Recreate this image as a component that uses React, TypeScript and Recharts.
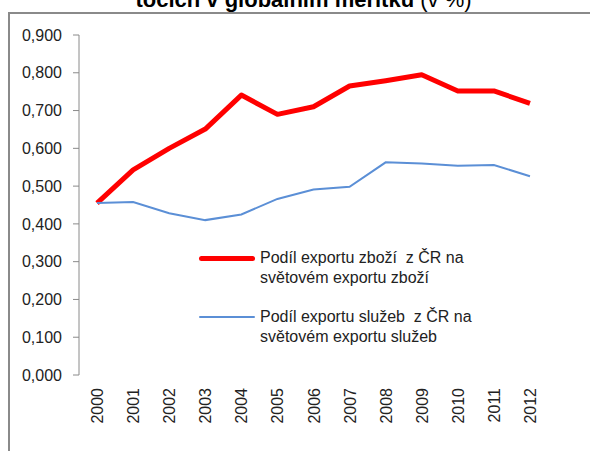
import React from 'react';
import { LineChart, Line, XAxis, YAxis } from 'recharts';

const years = ['2000', '2001', '2002', '2003', '2004', '2005', '2006', '2007', '2008', '2009', '2010', '2011', '2012'];
const goodsShare = [0.455, 0.543, 0.6, 0.651, 0.741, 0.69, 0.71, 0.765, 0.779, 0.795, 0.752, 0.752, 0.719];
const servicesShare = [0.455, 0.458, 0.428, 0.41, 0.425, 0.466, 0.491, 0.498, 0.563, 0.56, 0.554, 0.556, 0.526];
const yTicks = [0, 0.1, 0.2, 0.3, 0.4, 0.5, 0.6, 0.7, 0.8, 0.9];

const goodsName = ['Podíl exportu zboží  z ČR na', 'světovém exportu zboží'];
const servicesName = ['Podíl exportu služeb  z ČR na', 'světovém exportu služeb'];

const chartData = years.map((year, i) => ({
  year,
  goods: goodsShare[i],
  services: servicesShare[i]
}));

// boundaries between the year bands, for the Excel-like tick marks
const bandEdges = years.map((_, i) => i).concat(years.length);

const FONT = '"Liberation Sans", Arial, sans-serif';
const AXIS_GRAY = '#8a8a8a';

const YearTick = (props: any) => {
  const { x, y, payload } = props;
  return (
    <text
      transform={`translate(${x + 6},${y + 5}) rotate(-90)`}
      textAnchor="end"
      fontSize={16}
      fontFamily={FONT}
      fill="#222"
    >
      {payload.value}
    </text>
  );
};

const LegendRow = ({ color, width, lines }: { color: string; width: number; lines: string[] }) => (
  <div style={{ display: 'flex', alignItems: 'flex-start', marginBottom: 19 }}>
    <div style={{ width: 56, height: 20, display: 'flex', alignItems: 'center', marginRight: 5 }}>
      <div style={{ width: 56, height: width, background: color, borderRadius: width / 2 }} />
    </div>
    <div style={{ fontSize: 16, lineHeight: '20px', color: '#222', whiteSpace: 'pre' }}>
      {lines.map((l) => (
        <div key={l}>{l}</div>
      ))}
    </div>
  </div>
);

const App: React.FC = () => {
  return (
    <div
      style={{
        position: 'fixed',
        left: 0,
        top: 0,
        width: 590,
        height: 451,
        overflow: 'hidden',
        background: '#fff',
        fontFamily: FONT
      }}
    >
      {/* title, cut off at the top like in the source */}
      <div
        style={{
          position: 'absolute',
          left: 0,
          width: 607,
          top: -11,
          textAlign: 'center',
          fontSize: 22,
          lineHeight: '22px',
          color: '#000',
          whiteSpace: 'nowrap'
        }}
      >
        <b>točích v globálním měřítku</b> <span>(v %)</span>
      </div>
      {/* outer frame */}
      <div
        style={{
          position: 'absolute',
          left: 8,
          top: 12,
          width: 600,
          height: 460,
          borderLeft: `2px solid ${AXIS_GRAY}`,
          borderTop: `2px solid ${AXIS_GRAY}`
        }}
      />
      <div style={{ position: 'absolute', left: 0, top: 0 }}>
        <LineChart width={590} height={451} data={chartData} margin={{ top: 35, right: 42, left: 0, bottom: 0 }}>
          <XAxis
            xAxisId="edges"
            type="number"
            domain={[0, years.length]}
            ticks={bandEdges}
            height={0}
            tickSize={6}
            tickFormatter={() => ''}
            axisLine={{ stroke: AXIS_GRAY }}
            tickLine={{ stroke: AXIS_GRAY }}
          />
          <XAxis
            xAxisId="years"
            dataKey="year"
            scale="band"
            height={76}
            interval={0}
            tickSize={6}
            tickMargin={2}
            axisLine={false}
            tickLine={false}
            tick={<YearTick />}
          />
          <YAxis
            width={79}
            domain={[0, 0.9]}
            ticks={yTicks}
            interval={0}
            tickSize={6}
            tickMargin={11}
            axisLine={{ stroke: AXIS_GRAY }}
            tickLine={{ stroke: AXIS_GRAY }}
            tick={{ fontSize: 16, fill: '#222', fontFamily: FONT }}
            tickFormatter={(v: number) => v.toFixed(3).replace('.', ',')}
          />
          <Line
            xAxisId="years"
            dataKey="goods"
            stroke="#ff0000"
            strokeWidth={5}
            strokeLinejoin="round"
            dot={false}
            isAnimationActive={false}
          />
          <Line
            xAxisId="years"
            dataKey="services"
            stroke="#5b8fd6"
            strokeWidth={2}
            dot={false}
            isAnimationActive={false}
          />
        </LineChart>
      </div>
      {/* legend */}
      <div style={{ position: 'absolute', left: 199, top: 248 }}>
        <LegendRow color="#ff0000" width={5} lines={goodsName} />
        <LegendRow color="#5b8fd6" width={2} lines={servicesName} />
      </div>
    </div>
  );
};

export default App;
